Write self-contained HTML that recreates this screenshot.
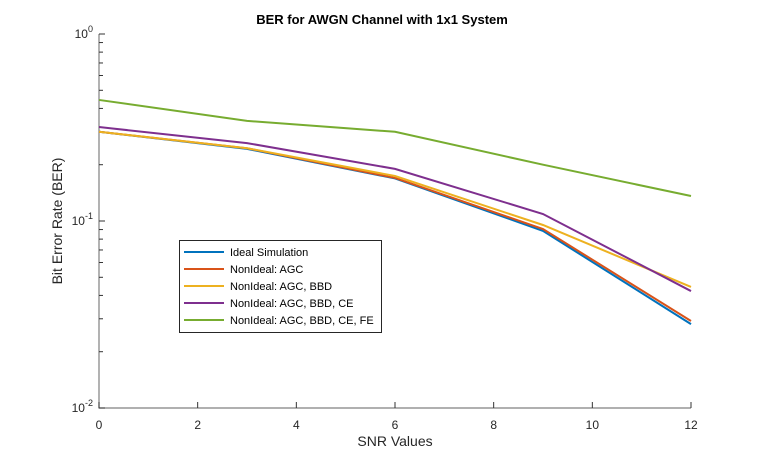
<!DOCTYPE html>
<html><head><meta charset="utf-8"><style>
body{margin:0;background:#fff;}
svg{display:block;font-family:"Liberation Sans",Arial,sans-serif;}
</style></head><body>
<svg id="chart" width="764" height="460"></svg>
<script>
const snr=[0,3,6,9,12];
const xTicks=[0,2,4,6,8,10,12];
const seriesNames=["Ideal Simulation","NonIdeal: AGC","NonIdeal: AGC, BBD","NonIdeal: AGC, BBD, CE","NonIdeal: AGC, BBD, CE, FE"];
const ideal=[0.30,0.243,0.169,0.0885,0.0281];
const agc=[0.30,0.245,0.170,0.0906,0.0292];
const bbd=[0.30,0.245,0.174,0.0952,0.0444];
const ce=[0.318,0.261,0.190,0.109,0.0422];
const fe=[0.444,0.343,0.300,0.200,0.136];
const colors=["#0072BD","#D95319","#EDB120","#7E2F8E","#77AC30"];
const NS="http://www.w3.org/2000/svg";
const svg=document.getElementById('chart');
const X0=99,X1=691,Y0=34,Y1=408;
function xs(v){return X0+(v-0)/12*(X1-X0);}
function ys(v){return Y0+(-Math.log10(v))/2*(Y1-Y0);}
function mk(t,a,p){const e=document.createElementNS(NS,t);for(const k in a)e.setAttribute(k,a[k]);(p||svg).appendChild(e);return e;}
let t=mk('text',{x:382,y:24,'text-anchor':'middle','font-size':13,'font-weight':'bold',fill:'#000'});t.textContent='BER for AWGN Channel with 1x1 System';


let ax=mk('path',{d:`M${X0},${Y0}V${Y1}H${X1}`,stroke:'#808080',fill:'none','stroke-width':1.2});


xTicks.forEach(v=>{const x=xs(v);
mk('line',{x1:x,x2:x,y1:Y1,y2:Y1-6,stroke:'#333'});
const tx=mk('text',{x:x,y:Y1+21,'text-anchor':'middle','font-size':12,fill:'#262626'});tx.textContent=v;

});
for(let d=0;d<2;d++){for(let m=1;m<=10;m++){const v=Math.pow(10,-2+d)*m;const y=ys(v);const L=(m==1||m==10)?6:4;mk('line',{x1:X0,x2:X0+L,y1:y,y2:y,stroke:'#333'});}}
[[0,'0'],[-1,'-1'],[-2,'-2']].forEach(([e,s])=>{const y=ys(Math.pow(10,e));
const g=mk('text',{x:X0-6,y:y+4,'text-anchor':'end','font-size':12,fill:'#262626'});
g.innerHTML='10<tspan dy="-6" font-size="9">'+s+'</tspan>';

});
t=mk('text',{x:395,y:446,'text-anchor':'middle','font-size':14,fill:'#262626'});t.textContent='SNR Values';


t=mk('text',{x:0,y:0,'text-anchor':'middle','font-size':14,fill:'#262626',transform:'translate(62,221) rotate(-90)'});t.textContent='Bit Error Rate (BER)';


const all=[ideal,agc,bbd,ce,fe];
all.forEach((s,i)=>{const p=mk('polyline',{points:s.map((v,j)=>xs(snr[j])+','+ys(v)).join(' '),fill:'none',stroke:colors[i],'stroke-width':2});

});
const lg=mk('g',{});


mk('rect',{x:179.5,y:240.5,width:202,height:92,fill:'#fff',stroke:'#262626'},lg);
const ly=[252,269,286,303,320];
seriesNames.forEach((n,i)=>{mk('line',{x1:184,x2:224,y1:ly[i],y2:ly[i],stroke:colors[i],'stroke-width':2},lg);
const e=mk('text',{x:230,y:ly[i]+4,'font-size':11,fill:'#000'},lg);e.textContent=n;

});
</script>
</body></html>
